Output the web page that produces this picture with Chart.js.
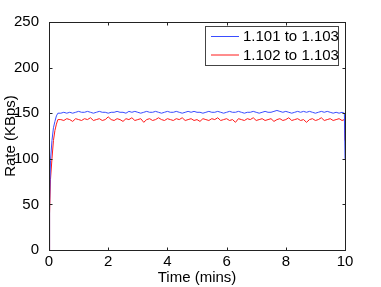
<!DOCTYPE html>
<html>
<head>
<meta charset="utf-8">
<script src="https://cdn.jsdelivr.net/npm/chart.js@4"></script>
<style>
  html, body { margin: 0; padding: 0; background: #fff; }
  canvas { display: block; }
</style>
</head>
<body>
<canvas id="rateChart" width="381" height="287"></canvas>
<script>
// Time samples (mins)
const times = [0, 0.02, 0.05, 0.1, 0.15, 0.2, 0.25, 0.3,
	0.4, 0.5, 0.6, 0.7, 0.8, 0.9, 1.0, 1.1, 1.2, 1.3, 1.4, 1.5, 1.6, 1.7, 1.8, 1.9,
	2.0, 2.1, 2.2, 2.3, 2.4, 2.5, 2.6, 2.7, 2.8, 2.9, 3.0, 3.1, 3.2, 3.3, 3.4, 3.5,
	3.6, 3.7, 3.8, 3.9, 4.0, 4.1, 4.2, 4.3, 4.4, 4.5, 4.6, 4.7, 4.8, 4.9, 5.0, 5.1,
	5.2, 5.3, 5.4, 5.5, 5.6, 5.7, 5.8, 5.9, 6.0, 6.1, 6.2, 6.3, 6.4, 6.5, 6.6, 6.7,
	6.8, 6.9, 7.0, 7.1, 7.2, 7.3, 7.4, 7.5, 7.6, 7.7, 7.8, 7.9, 8.0, 8.1, 8.2, 8.3,
	8.4, 8.5, 8.6, 8.7, 8.8, 8.9, 9.0, 9.1, 9.2, 9.3, 9.4, 9.5, 9.6, 9.7, 9.8, 9.9,
	9.98, 10];

// 1.101 to 1.103 (KBps)
const rate101 = [0, 50, 98, 120, 134, 141, 147, 150,
	150, 151, 150, 151, 150, 151, 152, 151, 151, 152, 151, 150, 151, 152, 151, 151,
	150, 151, 151, 152, 151, 151, 150, 152, 151, 152, 151, 150, 151, 152, 151, 151,
	152, 151, 150, 151, 152, 151, 151, 152, 151, 150, 151, 152, 151, 152, 151, 151,
	150, 151, 152, 151, 151, 152, 151, 150, 151, 152, 151, 151, 152, 151, 150, 151,
	151, 152, 151, 150, 151, 152, 151, 151, 152, 153, 152, 151, 152, 151, 150, 151,
	152, 151, 152, 151, 152, 151, 150, 151, 152, 151, 152, 151, 150, 151, 150, 151,
	150, 100];

// 1.102 to 1.103 (KBps)
const rate102 = [0, 40, 77, 100, 120, 131, 138, 143,
	143, 142, 144, 143, 141, 144, 143, 142, 144, 143, 145, 142, 143, 144, 142, 143,
	146, 143, 142, 144, 143, 141, 144, 143, 145, 142, 143, 144, 140, 143, 144, 142,
	143, 145, 143, 142, 144, 143, 142, 144, 143, 145, 142, 143, 144, 142, 143, 141,
	144, 143, 142, 144, 143, 145, 142, 143, 144, 142, 143, 140, 144, 143, 142, 144,
	143, 145, 142, 143, 144, 142, 143, 144, 141, 143, 144, 142, 143, 145, 142, 143,
	144, 142, 143, 140, 143, 144, 142, 143, 145, 142, 143, 144, 142, 143, 144, 142,
	143, 120];

const seriesLabels = ['1.101 to 1.103', '1.102 to 1.103'];
const seriesColors = ['#3a4dff', '#ff1a1a'];
const xTicks = [0, 2, 4, 6, 8, 10];
const yTicks = [0, 50, 100, 150, 200, 250];

const FONT = 'Liberation Sans, Arial, Helvetica, sans-serif';

// Draws the MATLAB style box, inward ticks and legend
const matlabFrame = {
	id: 'matlabFrame',
	afterDraw(chart) {
		const ctx = chart.ctx;
		const a = chart.chartArea;
		const xs = chart.scales.x, ys = chart.scales.y;
		const L = Math.round(a.left) + 0.5, R = Math.round(a.right) + 0.5;
		const T = Math.round(a.top) + 0.5, B = Math.round(a.bottom) + 0.5;
		ctx.save();
		ctx.strokeStyle = '#222';
		ctx.lineWidth = 1;
		ctx.strokeRect(L, T, R - L, B - T);
		ctx.beginPath();
		xTicks.forEach(v => {
			const px = Math.round(xs.getPixelForValue(v)) + 0.5;
			ctx.moveTo(px, B); ctx.lineTo(px, B - 3);
			ctx.moveTo(px, T); ctx.lineTo(px, T + 3);
		});
		yTicks.forEach(v => {
			const py = Math.round(ys.getPixelForValue(v)) + 0.5;
			ctx.moveTo(L, py); ctx.lineTo(L + 3, py);
			ctx.moveTo(R, py); ctx.lineTo(R - 3, py);
		});
		ctx.stroke();

		// legend box
		const bx = 205.5, by = 26.5, bw = 133, bh = 39;
		ctx.fillStyle = '#fff';
		ctx.fillRect(bx, by, bw, bh);
		ctx.strokeStyle = '#444';
		ctx.strokeRect(bx, by, bw, bh);
		ctx.font = '15px ' + FONT;
		ctx.textBaseline = 'middle';
		ctx.textAlign = 'left';
		seriesLabels.forEach((lab, i) => {
			const yy = 36.5 + i * 18.5;
			ctx.strokeStyle = seriesColors[i];
			ctx.beginPath();
			ctx.moveTo(211, yy); ctx.lineTo(239, yy);
			ctx.stroke();
			ctx.fillStyle = '#000';
			ctx.fillText(lab, 243, yy + 0.5);
		});
		ctx.restore();
	}
};

function makeSeries(values) {
	return times.map((t, i) => ({x: t, y: values[i]}));
}

new Chart(document.getElementById('rateChart').getContext('2d'), {
	type: 'line',
	data: {
		datasets: [
			{label: seriesLabels[0], data: makeSeries(rate101), borderColor: seriesColors[0], borderWidth: 1, pointRadius: 0, tension: 0},
			{label: seriesLabels[1], data: makeSeries(rate102), borderColor: seriesColors[1], borderWidth: 1, pointRadius: 0, tension: 0}
		]
	},
	options: {
		responsive: false,
		animation: false,
		layout: {padding: {top: 22, right: 36, left: 0, bottom: 0}},
		plugins: {legend: {display: false}, tooltip: {enabled: false}},
		scales: {
			x: {
				type: 'linear', min: 0, max: 10,
				grid: {display: false},
				border: {display: false},
				afterBuildTicks: s => { s.ticks = xTicks.map(v => ({value: v})); },
				afterFit: s => { s.height = 37; },
				ticks: {color: '#000', font: {family: FONT, size: 15}, padding: -5, maxRotation: 0},
				title: {display: true, text: 'Time (mins)', color: '#000', font: {family: FONT, size: 15}, padding: 0}
			},
			y: {
				min: 0, max: 250,
				grid: {display: false},
				border: {display: false},
				afterBuildTicks: s => { s.ticks = yTicks.map(v => ({value: v})); },
				afterFit: s => { s.width = 49; },
				ticks: {color: '#000', font: {family: FONT, size: 15}, padding: 2},
				title: {display: true, text: 'Rate (KBps)', color: '#000', font: {family: FONT, size: 15}, padding: {top: 2, bottom: 0}}
			}
		}
	},
	plugins: [matlabFrame]
});
</script>
</body>
</html>
